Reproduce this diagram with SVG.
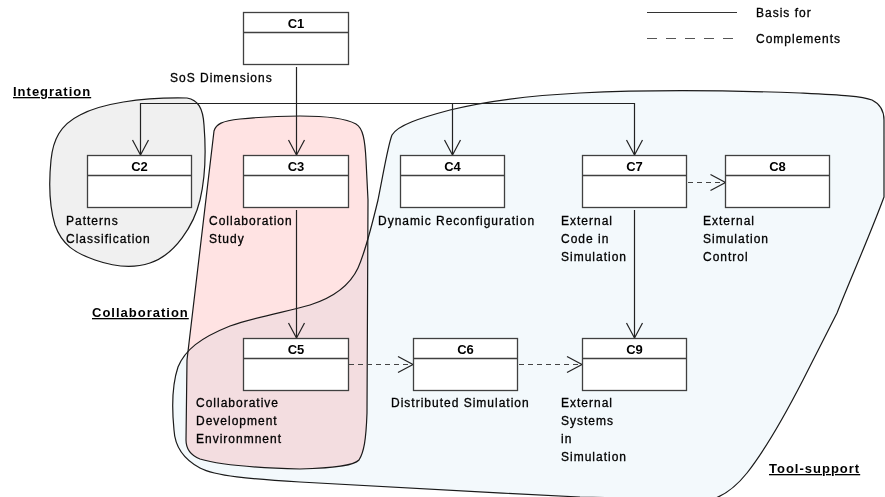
<svg xmlns="http://www.w3.org/2000/svg" width="885" height="497" viewBox="0 0 885 497">
<defs>
<style>
.box{fill:#fff;stroke:#404040;stroke-width:1.3}
.hd{font-family:"Liberation Sans",Arial,sans-serif;font-weight:bold;font-size:13px;fill:#000;text-anchor:middle}
.lbl{font-family:"Liberation Sans",Arial,sans-serif;font-size:12px;letter-spacing:1px;fill:#000;stroke:#000;stroke-width:0.3}
.grp{font-family:"Liberation Sans",Arial,sans-serif;font-weight:bold;font-size:13px;letter-spacing:1px;fill:#000;text-decoration:underline}
.blob{stroke:#1a1a1a;stroke-width:1.2;fill:none}
.con{fill:none;stroke:#222;stroke-width:1.2}
.dash{stroke:#444;stroke-dasharray:5 4}
</style>
<marker id="arr" markerUnits="userSpaceOnUse" markerWidth="20" markerHeight="20" viewBox="-16 -10 18 20" refX="0" refY="0" orient="auto">
<path d="M -15 -8 L 0 0 L -15 8" fill="none" stroke="#222" stroke-width="1.2"/>
</marker>
</defs>

<g id="regions">
<path id="integration-region" d="M 187 98 C 198 100, 203 108, 204 125 C 206 150, 206 175, 200 200 C 194 225, 175 255, 150 263 C 135 268, 115 267, 95 260 C 75 253, 62 245, 55 225 C 49 205, 49 180, 51 160 C 53 140, 60 125, 80 115 C 100 104, 140 97, 187 98 Z" fill="#f0f0f0" stroke="#1a1a1a" stroke-width="1.2"/>
<path id="tool-fill" d="M 392 135 C 398 125, 420 118, 450 110 C 490 100, 540 95, 580 93 C 640 90, 720 90, 800 93 C 840 95, 862 96, 872 100 C 880 104, 884 110, 884 120 L 884 197 C 870 235, 850 280, 837 313 L 803 380 C 785 415, 765 450, 747 473 C 735 488, 725 495, 713 499 C 680 499, 620 498, 580 497 C 480 492, 360 486, 300 482 C 250 479, 215 476, 200 468 C 185 460, 175 448, 174 430 C 172 410, 172 385, 178 367 C 185 350, 200 338, 230 326 C 255 317, 290 311, 310 305 C 335 297, 350 285, 358 268 C 366 250, 372 225, 378 200 C 384 170, 388 145, 392 135 Z" fill="#f3f9fc" stroke="none"/>
<path id="collab-fill" d="M 214 131 C 216 124, 222 121, 240 119 C 260 117, 280 116, 300 116 C 320 116, 345 118, 356 124 C 363 128, 365 140, 366 160 L 368 200 L 367 413 C 366 440, 364 452, 359 460 C 354 465, 340 468, 300 469 C 260 468, 220 465, 200 459 C 190 455, 186 448, 186 440 L 187 360 Z" fill="#ffe3e3" stroke="none" style="mix-blend-mode:multiply"/>
<path class="blob" d="M 392 135 C 398 125, 420 118, 450 110 C 490 100, 540 95, 580 93 C 640 90, 720 90, 800 93 C 840 95, 862 96, 872 100 C 880 104, 884 110, 884 120 L 884 197 C 870 235, 850 280, 837 313 L 803 380 C 785 415, 765 450, 747 473 C 735 488, 725 495, 713 499 C 680 499, 620 498, 580 497 C 480 492, 360 486, 300 482 C 250 479, 215 476, 200 468 C 185 460, 175 448, 174 430 C 172 410, 172 385, 178 367 C 185 350, 200 338, 230 326 C 255 317, 290 311, 310 305 C 335 297, 350 285, 358 268 C 366 250, 372 225, 378 200 C 384 170, 388 145, 392 135 Z"/>
<path class="blob" d="M 214 131 C 216 124, 222 121, 240 119 C 260 117, 280 116, 300 116 C 320 116, 345 118, 356 124 C 363 128, 365 140, 366 160 L 368 200 L 367 413 C 366 440, 364 452, 359 460 C 354 465, 340 468, 300 469 C 260 468, 220 465, 200 459 C 190 455, 186 448, 186 440 L 187 360 Z"/>
<text class="grp" x="13" y="96">Integration</text>
<text class="grp" x="92" y="317">Collaboration</text>
<text class="grp" x="769" y="473">Tool-support</text>
</g>

<g id="legend">
<line x1="647" y1="12.5" x2="737" y2="12.5" stroke="#333" stroke-width="1.2"/>
<line x1="647" y1="38.5" x2="737" y2="38.5" stroke="#555" stroke-width="1.2" stroke-dasharray="10 9"/>
<text class="lbl" x="756" y="17">Basis for</text>
<text class="lbl" x="756" y="43">Complements</text>
</g>

<g id="connectors">
<path class="con" d="M 296.5 67 L 296.5 155" marker-end="url(#arr)"/>
<path class="con" d="M 296.5 103.5 L 140.5 103.5 L 140.5 155" marker-end="url(#arr)"/>
<path class="con" d="M 296.5 103.5 L 452.5 103.5 L 452.5 155" marker-end="url(#arr)"/>
<path class="con" d="M 452.5 103.5 L 634.5 103.5 L 634.5 155" marker-end="url(#arr)"/>
<path class="con" d="M 296.5 210 L 296.5 338" marker-end="url(#arr)"/>
<path class="con" d="M 634.5 210 L 634.5 338" marker-end="url(#arr)"/>
<path class="con dash" d="M 688 182.5 L 725.5 182.5" marker-end="url(#arr)"/>
<path class="con dash" d="M 349 364.5 L 413 364.5" marker-end="url(#arr)"/>
<path class="con dash" d="M 519 364.5 L 582 364.5" marker-end="url(#arr)"/>
</g>

<g id="C1">
<rect class="box" x="243.5" y="12.5" width="105" height="52"/>
<line x1="243.5" y1="32.5" x2="348.5" y2="32.5" stroke="#404040" stroke-width="1.3"/>
<text class="hd" x="296" y="28">C1</text>
<text class="lbl" x="170" y="82">SoS Dimensions</text>
</g>

<g id="C2">
<rect class="box" x="87.5" y="155.5" width="104" height="52"/>
<line x1="87.5" y1="175.5" x2="191.5" y2="175.5" stroke="#404040" stroke-width="1.3"/>
<text class="hd" x="139.5" y="171">C2</text>
<text class="lbl" x="66" y="225">Patterns</text>
<text class="lbl" x="66" y="243">Classification</text>
</g>

<g id="C3">
<rect class="box" x="243.5" y="155.5" width="105" height="52"/>
<line x1="243.5" y1="175.5" x2="348.5" y2="175.5" stroke="#404040" stroke-width="1.3"/>
<text class="hd" x="296" y="171">C3</text>
<text class="lbl" x="209" y="225">Collaboration</text>
<text class="lbl" x="209" y="243">Study</text>
</g>

<g id="C4">
<rect class="box" x="400.5" y="155.5" width="104" height="52"/>
<line x1="400.5" y1="175.5" x2="504.5" y2="175.5" stroke="#404040" stroke-width="1.3"/>
<text class="hd" x="452.5" y="171">C4</text>
<text class="lbl" x="378" y="225">Dynamic Reconfiguration</text>
</g>

<g id="C7">
<rect class="box" x="582.5" y="155.5" width="104" height="52"/>
<line x1="582.5" y1="175.5" x2="686.5" y2="175.5" stroke="#404040" stroke-width="1.3"/>
<text class="hd" x="634.5" y="171">C7</text>
<text class="lbl" x="561" y="225">External</text>
<text class="lbl" x="561" y="243">Code in</text>
<text class="lbl" x="561" y="261">Simulation</text>
</g>

<g id="C8">
<rect class="box" x="725.5" y="155.5" width="104" height="52"/>
<line x1="725.5" y1="175.5" x2="829.5" y2="175.5" stroke="#404040" stroke-width="1.3"/>
<text class="hd" x="777.5" y="171">C8</text>
<text class="lbl" x="703" y="225">External</text>
<text class="lbl" x="703" y="243">Simulation</text>
<text class="lbl" x="703" y="261">Control</text>
</g>

<g id="C5">
<rect class="box" x="243.5" y="338.5" width="105" height="52"/>
<line x1="243.5" y1="358.5" x2="348.5" y2="358.5" stroke="#404040" stroke-width="1.3"/>
<text class="hd" x="296" y="354">C5</text>
<text class="lbl" x="196" y="407">Collaborative</text>
<text class="lbl" x="196" y="425">Development</text>
<text class="lbl" x="196" y="443">Environmnent</text>
</g>

<g id="C6">
<rect class="box" x="413.5" y="338.5" width="104" height="52"/>
<line x1="413.5" y1="358.5" x2="517.5" y2="358.5" stroke="#404040" stroke-width="1.3"/>
<text class="hd" x="465.5" y="354">C6</text>
<text class="lbl" x="391" y="407">Distributed Simulation</text>
</g>

<g id="C9">
<rect class="box" x="582.5" y="338.5" width="104" height="52"/>
<line x1="582.5" y1="358.5" x2="686.5" y2="358.5" stroke="#404040" stroke-width="1.3"/>
<text class="hd" x="634.5" y="354">C9</text>
<text class="lbl" x="561" y="407">External</text>
<text class="lbl" x="561" y="425">Systems</text>
<text class="lbl" x="561" y="443">in</text>
<text class="lbl" x="561" y="461">Simulation</text>
</g>
</svg>
